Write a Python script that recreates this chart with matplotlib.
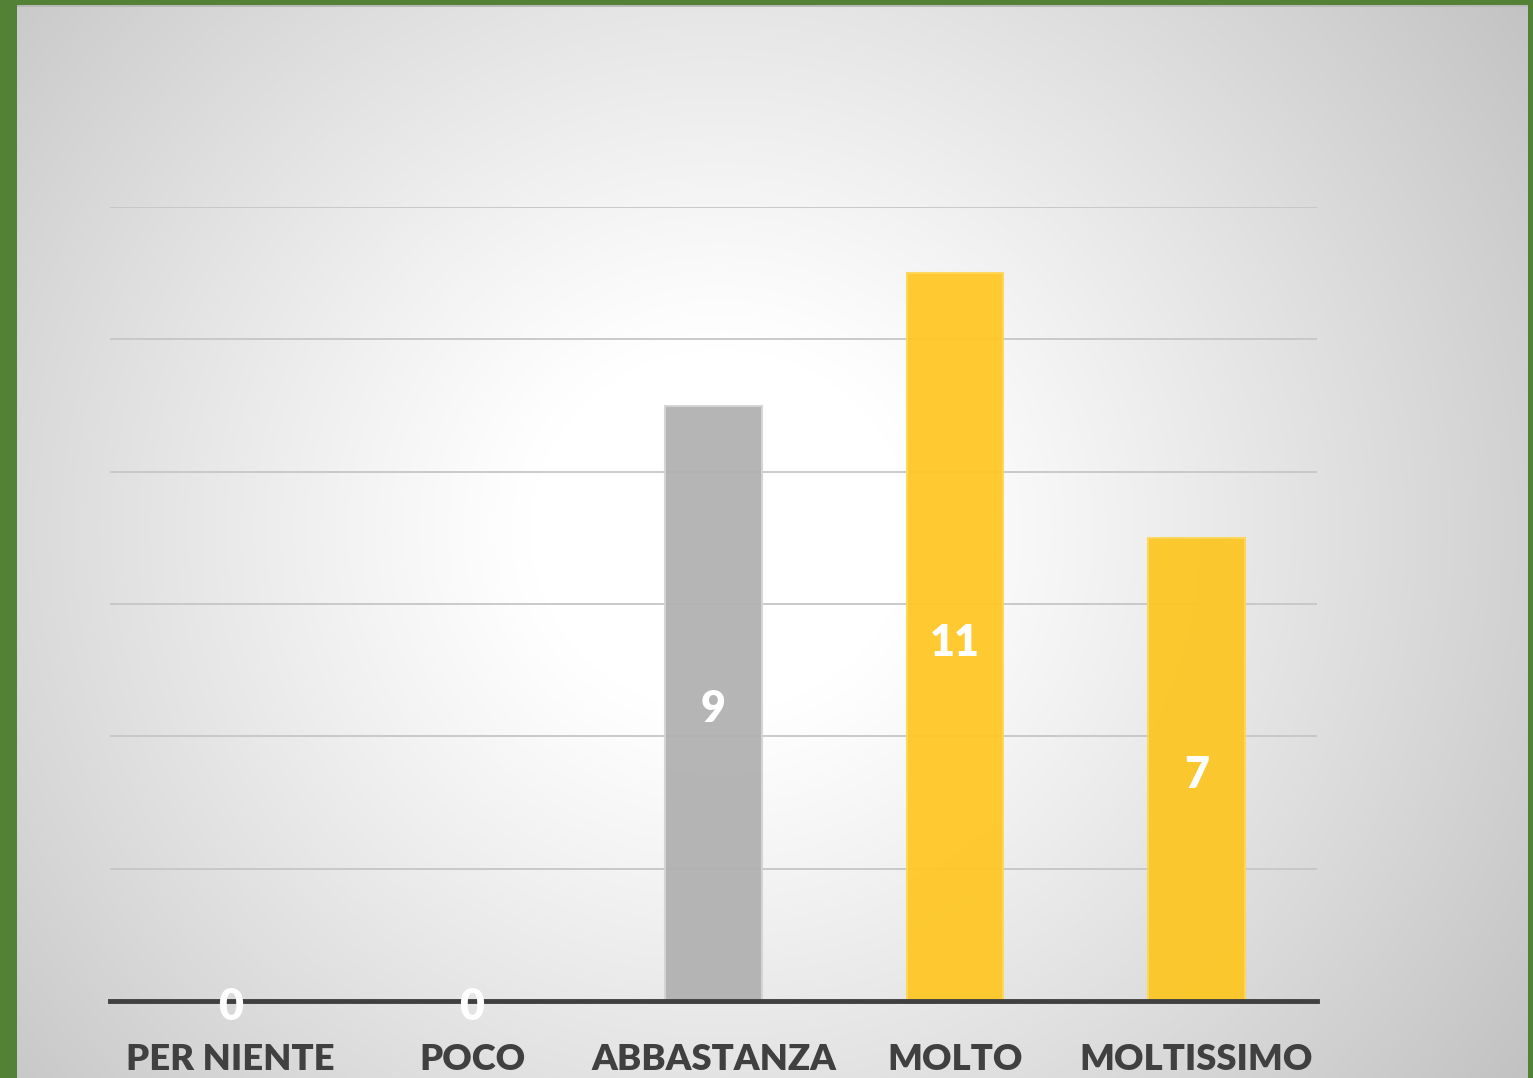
import numpy as np
import matplotlib.pyplot as plt
from matplotlib.patches import Rectangle

# dati
categorie = ["PER NIENTE", "POCO", "ABBASTANZA", "MOLTO", "MOLTISSIMO"]
valori = [0, 0, 9, 11, 7]
colori = ["#b1b1b1", "#b1b1b1", "#b1b1b1", "#ffc726", "#fcc624"]
bordi = ["#d4d4d4", "#d4d4d4", "#d4d4d4", "#ffd658", "#ffd658"]

W, H = 1533, 1078
fig = plt.figure(figsize=(W / 100, H / 100), dpi=100)

# sfondo con gradiente radiale
bg = fig.add_axes([0, 0, 1, 1])
yy, xx = np.mgrid[0:H, 0:W]
r = np.hypot(xx - 720, (yy - 530) * 1.05)
t = np.clip((r - 190) / 800, 0, 1)
g = 1.0 - 0.24 * t ** 1.1
bg.imshow(np.dstack([g, g, g]), extent=[0, W, H, 0], aspect="auto", interpolation="bilinear")
bg.set_xlim(0, W)
bg.set_ylim(H, 0)
bg.axis("off")
# cornice verde
verde = "#538135"
bg.add_patch(Rectangle((0, 0), 17, H, color=verde, lw=0))
bg.add_patch(Rectangle((0, 0), W, 5, color=verde, lw=0))
bg.add_patch(Rectangle((1528, 0), 5, H, color=verde, lw=0))
bg.add_patch(Rectangle((17, 5), 1511, 1.5, color="#b8b8b8", lw=0))

# area del grafico
x0, x1, yb, yt = 110, 1317, 1001, 207
ax = fig.add_axes([x0 / W, 1 - yb / H, (x1 - x0) / W, (yb - yt) / H])
ax.patch.set_alpha(0)

x = np.arange(len(categorie))
ax.bar(x, valori, width=0.4, color=colori, edgecolor=bordi, linewidth=1.5, alpha=0.95, zorder=2)
ax.set_xlim(-0.5, len(categorie) - 0.5)
ax.set_ylim(0, 12)
ax.set_yticks(range(0, 13, 2))
ax.yaxis.grid(True, color="#c6c6c6", linewidth=1.3, zorder=0)
ax.set_axisbelow(True)
ax.tick_params(left=False, labelleft=False, bottom=False)
for s in ["top", "right", "left"]:
    ax.spines[s].set_visible(False)
ax.spines["bottom"].set_color("#404040")
ax.spines["bottom"].set_linewidth(3.5)
ax.spines["bottom"].set_zorder(3)

ax.set_xticks(x)
ax.set_xticklabels(categorie, fontfamily="Lato", fontweight="heavy", fontsize=26.2, color="#404040")
ax.tick_params(axis="x", pad=27)

# etichette dei valori
for i, v in enumerate(valori):
    ax.annotate(str(v), (i, v / 2), xytext=(0, -4), textcoords="offset points",
                ha="center", va="center", color="white",
                fontfamily="Lato", fontweight="heavy", fontsize=31, zorder=4)

fig.savefig("out.png", dpi=100)
